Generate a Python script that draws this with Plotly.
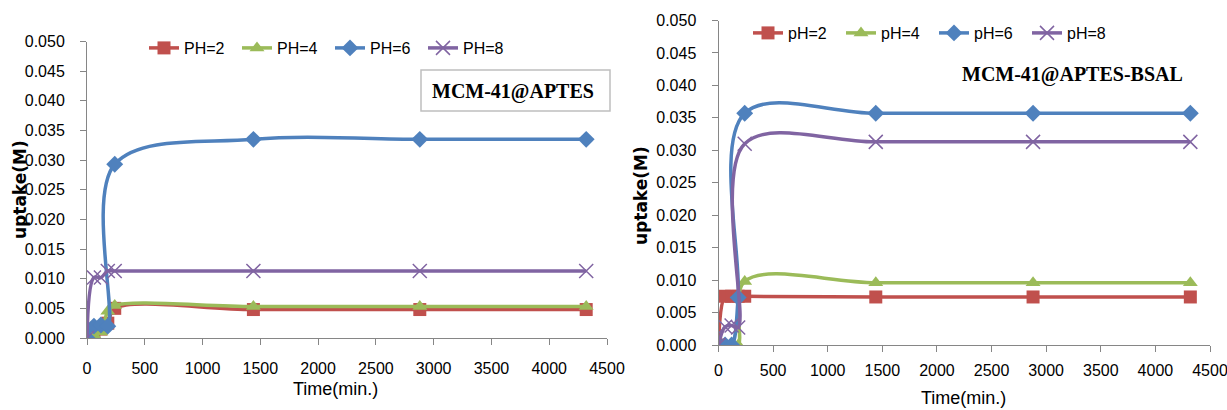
import plotly.graph_objects as go

# ---------------- data ----------------
time_min = [0, 60, 120, 180, 240, 1440, 2880, 4320]

# left panel: MCM-41@APTES
left_names = ["PH=2", "PH=4", "PH=6", "PH=8"]
left_ph2 = [0.0, 0.0005, 0.0015, 0.0025, 0.0050, 0.0048, 0.0048, 0.0048]
left_ph4 = [0.0, 0.0005, 0.0010, 0.0045, 0.0055, 0.0053, 0.0053, 0.0053]
left_ph6 = [0.0, 0.0020, 0.0022, 0.0020, 0.0293, 0.0335, 0.0335, 0.0335]
left_ph8 = [0.0, 0.0102, 0.0102, 0.0113, 0.0113, 0.0113, 0.0113, 0.0113]

# right panel: MCM-41@APTES-BSAL
right_names = ["pH=2", "pH=4", "pH=6", "pH=8"]
right_ph2 = [0.0, 0.0075, 0.0075, 0.0075, 0.0075, 0.0074, 0.0074, 0.0074]
right_ph4 = [0.0, 0.0, 0.0, 0.0, 0.0098, 0.0096, 0.0096, 0.0096]
right_ph6 = [0.0, 0.0, 0.0, 0.0073, 0.0357, 0.0357, 0.0357, 0.0357]
right_ph8 = [0.0, 0.0028, 0.0030, 0.0027, 0.0310, 0.0313, 0.0313, 0.0313]

y_ticks = [0.000, 0.005, 0.010, 0.015, 0.020, 0.025, 0.030, 0.035, 0.040, 0.045, 0.050]
x_ticks = [0, 500, 1000, 1500, 2000, 2500, 3000, 3500, 4000, 4500]

colors = ["#C0504D", "#9BBB59", "#4F81BD", "#8064A2"]
symbols = ["square", "triangle-up", "diamond", "x-thin"]
msizes = [13, 13, 13, 14]

W, H = 1227, 410
def px(x):
    return x / W
def py(y):
    return 1 - y / H

FAM = "Liberation Sans Narrow, Arial Narrow, Liberation Sans, Arial, sans-serif"
TICKFONT = dict(family=FAM, size=16, color="#000000")

fig = go.Figure()

def add_series(names, series, xa, ya, legend):
    for i, (nm, vals) in enumerate(zip(names, series)):
        sym = symbols[i]
        mk = dict(symbol=sym, size=msizes[i], color=colors[i])
        if sym == "x-thin":
            mk["line"] = dict(color=colors[i], width=1.5)
        fig.add_trace(go.Scatter(
            x=time_min, y=vals, name=nm, mode="lines+markers",
            line=dict(color=colors[i], width=3.5, shape="spline", smoothing=1.0),
            marker=mk, xaxis=xa, yaxis=ya, legend=legend,
        ))

add_series(left_names, [left_ph2, left_ph4, left_ph6, left_ph8], "x", "y", "legend")
add_series(right_names, [right_ph2, right_ph4, right_ph6, right_ph8], "x2", "y2", "legend2")

axis_common = dict(
    showgrid=False, zeroline=False, showline=True, linecolor="#868686", linewidth=1,
    ticks="outside", ticklen=6, tickcolor="#868686", tickfont=TICKFONT, automargin=False,
    ticklabeloverflow="allow",
)

fig.update_layout(
    width=W, height=H, margin=dict(l=0, r=0, t=0, b=0, autoexpand=False),
    paper_bgcolor="white", plot_bgcolor="white",
    xaxis=dict(domain=[px(87), px(607)], range=[0, 4500], tickvals=x_ticks,
               anchor="y", ticklabelstandoff=10, **axis_common),
    yaxis=dict(domain=[py(338), py(41.5)], range=[0, 0.05], tickvals=y_ticks,
               tickformat=".3f", anchor="x", ticklabelstandoff=12, **axis_common),
    xaxis2=dict(domain=[px(718.5), px(1210)], range=[0, 4500], tickvals=x_ticks,
                anchor="y2", ticklabelstandoff=5, **axis_common),
    yaxis2=dict(domain=[py(345), py(20.5)], range=[0, 0.05], tickvals=y_ticks,
                tickformat=".3f", anchor="x2", ticklabelstandoff=12, **axis_common),
    legend=dict(orientation="h", x=px(144), y=py(48), xanchor="left", yanchor="middle",
                font=dict(family=FAM, size=16, color="#000000"),
                entrywidth=48, entrywidthmode="pixels", bgcolor="rgba(0,0,0,0)"),
    legend2=dict(orientation="h", x=px(748), y=py(33), xanchor="left", yanchor="middle",
                 font=dict(family=FAM, size=16, color="#000000"),
                 entrywidth=48, entrywidthmode="pixels", bgcolor="rgba(0,0,0,0)"),
    showlegend=True,
)

ANN = dict(xref="paper", yref="paper", showarrow=False, xanchor="center", yanchor="middle")

# sample-name labels
fig.add_shape(type="rect", xref="paper", yref="paper",
              x0=px(421), x1=px(610), y0=py(111), y1=py(70),
              line=dict(color="#BFBFBF", width=1.5), fillcolor="white", layer="below")
fig.add_annotation(text="<b>MCM-41@APTES</b>", x=px(513), y=py(92),
                   font=dict(family="Liberation Serif, Times New Roman, serif", size=20, color="#000000"), **ANN)
fig.add_annotation(text="<b>MCM-41@APTES-BSAL</b>", x=px(1072), y=py(75),
                   font=dict(family="Liberation Serif, Times New Roman, serif", size=20, color="#000000"), **ANN)

# axis titles
YT = dict(family="DejaVu Sans, sans-serif", size=17, color="#000000")
XT = dict(family=FAM, size=18, color="#000000")
fig.add_annotation(text="<b>uptake(M)</b>", x=px(20), y=py(190), textangle=-90, font=YT, **ANN)
fig.add_annotation(text="<b>uptake(M)</b>", x=px(641), y=py(196), textangle=-90, font=YT, **ANN)
fig.add_annotation(text="Time(min.)", x=px(335), y=py(389), font=XT, **ANN)
fig.add_annotation(text="Time(min.)", x=px(963), y=py(398), font=XT, **ANN)

fig.write_html("out.html")
